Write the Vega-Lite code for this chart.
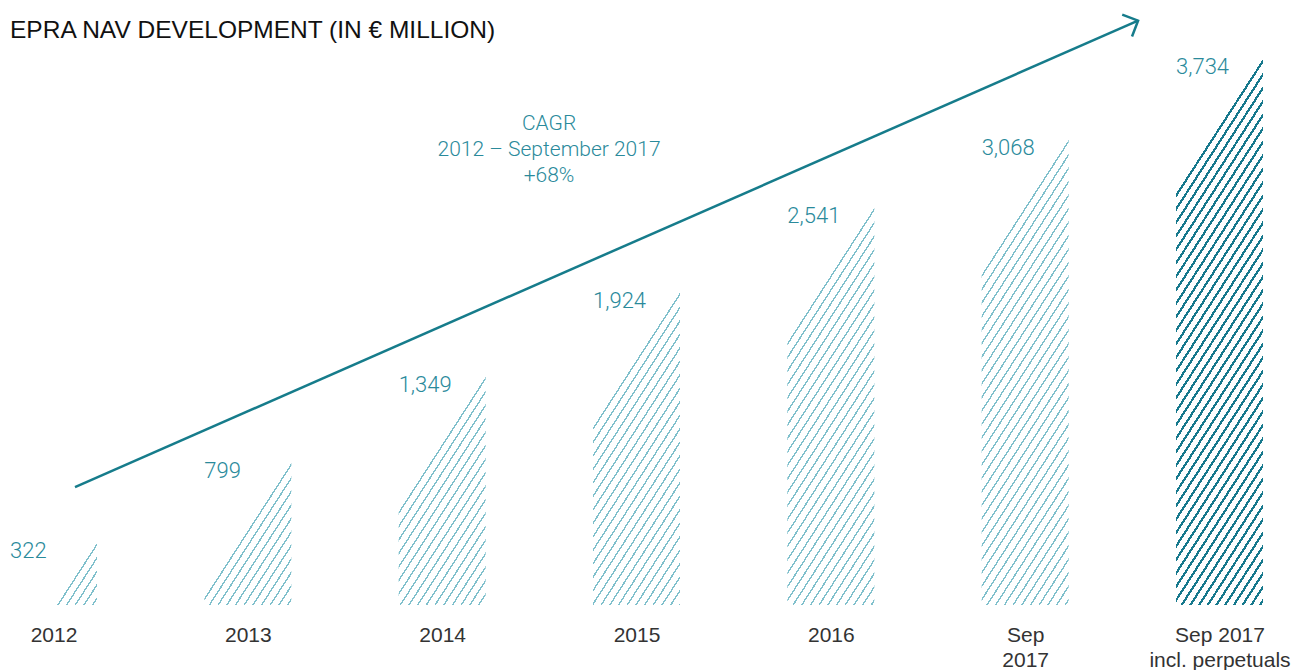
{
  "$schema": "https://vega.github.io/schema/vega-lite/v6.json",
  "width": 1273,
  "height": 555,
  "autosize": {"type": "none"},
  "padding": {"left": 0, "top": 50, "right": 35, "bottom": 65},
  "background": "white",
  "config": {"view": {"stroke": null}, "font": "Roboto"},
  "title": {"text": "EPRA NAV DEVELOPMENT (IN € MILLION)", "anchor": "start", "frame": "group", "fontSize": 24.5, "fontWeight": 400, "color": "#111111", "font": "Liberation Sans", "baseline": "alphabetic", "offset": 10, "dx": 10, "dy": 63},
  "datasets": {
    "nav": [
      {"cat": "2012", "nav": 322},
      {"cat": "2013", "nav": 799},
      {"cat": "2014", "nav": 1349},
      {"cat": "2015", "nav": 1924},
      {"cat": "2016", "nav": 2541},
      {"cat": "Sep|2017", "nav": 3068},
      {"cat": "Sep 2017|incl. perpetuals", "nav": 3734}
    ],
    "arrow": [
      {"part": "start", "i": 0.1106, "v": 653.2},
      {"part": "end", "i": 5.581, "v": 4063.4}
    ],
    "note": [
      {"i": 2.55, "v": 3198, "text": "CAGR\n2012 – September 2017\n+68%"}
    ]
  },
  "layer": [
    {
      "data": {"name": "nav"},
      "encoding": {
        "x": {"field": "cat", "type": "nominal", "sort": null, "scale": {"type": "point", "padding": 0.2753},
          "axis": {"title": null, "domain": false, "ticks": false, "tickSize": 0, "grid": false, "labelAngle": 0, "labelFontSize": 21, "labelFontWeight": 400, "labelColor": "#333333", "labelFont": "Liberation Sans", "labelPadding": 19, "labelLineHeight": 25, "labelBaseline": "top", "labelOverlap": false, "labelBound": false, "labelExpr": "split(datum.label, '|')"}},
        "y": {"field": "nav", "type": "quantitative", "scale": {"type": "symlog", "constant": 7000, "domain": [0, 3767], "nice": false, "zero": false}, "axis": null}
      },
      "layer": [
        {
          "transform": [{"filter": "datum.cat !== 'Sep 2017|incl. perpetuals'"}],
          "mark": {"type": "bar", "orient": "horizontal", "width": 87, "height": 1400, "clip": true,
            "fill": {"gradient": "linear", "x1": 1.03861, "y1": 0.9008, "x2": 1, "y2": 0.5, "stops": [
              {"offset": 0, "color": "transparent"},
              {"offset": 0.1383, "color": "transparent"}, {"offset": 0.1383, "color": "#80c0cc"}, {"offset": 0.1429, "color": "#80c0cc"}, {"offset": 0.1429, "color": "transparent"},
              {"offset": 0.1621, "color": "transparent"}, {"offset": 0.1621, "color": "#80c0cc"}, {"offset": 0.1667, "color": "#80c0cc"}, {"offset": 0.1667, "color": "transparent"},
              {"offset": 0.1859, "color": "transparent"}, {"offset": 0.1859, "color": "#80c0cc"}, {"offset": 0.1905, "color": "#80c0cc"}, {"offset": 0.1905, "color": "transparent"},
              {"offset": 0.2097, "color": "transparent"}, {"offset": 0.2097, "color": "#80c0cc"}, {"offset": 0.2143, "color": "#80c0cc"}, {"offset": 0.2143, "color": "transparent"},
              {"offset": 0.2335, "color": "transparent"}, {"offset": 0.2335, "color": "#80c0cc"}, {"offset": 0.2381, "color": "#80c0cc"}, {"offset": 0.2381, "color": "transparent"},
              {"offset": 0.2573, "color": "transparent"}, {"offset": 0.2573, "color": "#80c0cc"}, {"offset": 0.2619, "color": "#80c0cc"}, {"offset": 0.2619, "color": "transparent"},
              {"offset": 0.2811, "color": "transparent"}, {"offset": 0.2811, "color": "#80c0cc"}, {"offset": 0.2857, "color": "#80c0cc"}, {"offset": 0.2857, "color": "transparent"},
              {"offset": 0.3049, "color": "transparent"}, {"offset": 0.3049, "color": "#80c0cc"}, {"offset": 0.3095, "color": "#80c0cc"}, {"offset": 0.3095, "color": "transparent"},
              {"offset": 0.3287, "color": "transparent"}, {"offset": 0.3287, "color": "#80c0cc"}, {"offset": 0.3333, "color": "#80c0cc"}, {"offset": 0.3333, "color": "transparent"},
              {"offset": 0.3525, "color": "transparent"}, {"offset": 0.3525, "color": "#80c0cc"}, {"offset": 0.3571, "color": "#80c0cc"}, {"offset": 0.3571, "color": "transparent"},
              {"offset": 0.3764, "color": "transparent"}, {"offset": 0.3764, "color": "#80c0cc"}, {"offset": 0.3810, "color": "#80c0cc"}, {"offset": 0.3810, "color": "transparent"},
              {"offset": 0.4002, "color": "transparent"}, {"offset": 0.4002, "color": "#80c0cc"}, {"offset": 0.4048, "color": "#80c0cc"}, {"offset": 0.4048, "color": "transparent"},
              {"offset": 0.4240, "color": "transparent"}, {"offset": 0.4240, "color": "#80c0cc"}, {"offset": 0.4286, "color": "#80c0cc"}, {"offset": 0.4286, "color": "transparent"},
              {"offset": 0.4478, "color": "transparent"}, {"offset": 0.4478, "color": "#80c0cc"}, {"offset": 0.4524, "color": "#80c0cc"}, {"offset": 0.4524, "color": "transparent"},
              {"offset": 0.4716, "color": "transparent"}, {"offset": 0.4716, "color": "#80c0cc"}, {"offset": 0.4762, "color": "#80c0cc"}, {"offset": 0.4762, "color": "transparent"},
              {"offset": 0.4954, "color": "transparent"}, {"offset": 0.4954, "color": "#80c0cc"}, {"offset": 0.5000, "color": "#80c0cc"}, {"offset": 0.5000, "color": "transparent"},
              {"offset": 0.5192, "color": "transparent"}, {"offset": 0.5192, "color": "#80c0cc"}, {"offset": 0.5238, "color": "#80c0cc"}, {"offset": 0.5238, "color": "transparent"},
              {"offset": 0.5430, "color": "transparent"}, {"offset": 0.5430, "color": "#80c0cc"}, {"offset": 0.5476, "color": "#80c0cc"}, {"offset": 0.5476, "color": "transparent"},
              {"offset": 0.5668, "color": "transparent"}, {"offset": 0.5668, "color": "#80c0cc"}, {"offset": 0.5714, "color": "#80c0cc"}, {"offset": 0.5714, "color": "transparent"},
              {"offset": 0.5906, "color": "transparent"}, {"offset": 0.5906, "color": "#80c0cc"}, {"offset": 0.5952, "color": "#80c0cc"}, {"offset": 0.5952, "color": "transparent"},
              {"offset": 0.6144, "color": "transparent"}, {"offset": 0.6144, "color": "#80c0cc"}, {"offset": 0.6190, "color": "#80c0cc"}, {"offset": 0.6190, "color": "transparent"},
              {"offset": 0.6383, "color": "transparent"}, {"offset": 0.6383, "color": "#80c0cc"}, {"offset": 0.6429, "color": "#80c0cc"}, {"offset": 0.6429, "color": "transparent"},
              {"offset": 0.6621, "color": "transparent"}, {"offset": 0.6621, "color": "#80c0cc"}, {"offset": 0.6667, "color": "#80c0cc"}, {"offset": 0.6667, "color": "transparent"},
              {"offset": 0.6859, "color": "transparent"}, {"offset": 0.6859, "color": "#80c0cc"}, {"offset": 0.6905, "color": "#80c0cc"}, {"offset": 0.6905, "color": "transparent"},
              {"offset": 0.7097, "color": "transparent"}, {"offset": 0.7097, "color": "#80c0cc"}, {"offset": 0.7143, "color": "#80c0cc"}, {"offset": 0.7143, "color": "transparent"},
              {"offset": 0.7335, "color": "transparent"}, {"offset": 0.7335, "color": "#80c0cc"}, {"offset": 0.7381, "color": "#80c0cc"}, {"offset": 0.7381, "color": "transparent"},
              {"offset": 0.7573, "color": "transparent"}, {"offset": 0.7573, "color": "#80c0cc"}, {"offset": 0.7619, "color": "#80c0cc"}, {"offset": 0.7619, "color": "transparent"},
              {"offset": 0.7811, "color": "transparent"}, {"offset": 0.7811, "color": "#80c0cc"}, {"offset": 0.7857, "color": "#80c0cc"}, {"offset": 0.7857, "color": "transparent"},
              {"offset": 0.8049, "color": "transparent"}, {"offset": 0.8049, "color": "#80c0cc"}, {"offset": 0.8095, "color": "#80c0cc"}, {"offset": 0.8095, "color": "transparent"},
              {"offset": 0.8287, "color": "transparent"}, {"offset": 0.8287, "color": "#80c0cc"}, {"offset": 0.8333, "color": "#80c0cc"}, {"offset": 0.8333, "color": "transparent"},
              {"offset": 0.8525, "color": "transparent"}, {"offset": 0.8525, "color": "#80c0cc"}, {"offset": 0.8571, "color": "#80c0cc"}, {"offset": 0.8571, "color": "transparent"},
              {"offset": 0.8764, "color": "transparent"}, {"offset": 0.8764, "color": "#80c0cc"}, {"offset": 0.8810, "color": "#80c0cc"}, {"offset": 0.8810, "color": "transparent"},
              {"offset": 0.9002, "color": "transparent"}, {"offset": 0.9002, "color": "#80c0cc"}, {"offset": 0.9048, "color": "#80c0cc"}, {"offset": 0.9048, "color": "transparent"},
              {"offset": 0.9240, "color": "transparent"}, {"offset": 0.9240, "color": "#80c0cc"}, {"offset": 0.9286, "color": "#80c0cc"}, {"offset": 0.9286, "color": "transparent"},
              {"offset": 0.9478, "color": "transparent"}, {"offset": 0.9478, "color": "#80c0cc"}, {"offset": 0.9524, "color": "#80c0cc"}, {"offset": 0.9524, "color": "transparent"},
              {"offset": 0.9716, "color": "transparent"}, {"offset": 0.9716, "color": "#80c0cc"}, {"offset": 0.9762, "color": "#80c0cc"}, {"offset": 0.9762, "color": "transparent"},
              {"offset": 0.9954, "color": "transparent"}, {"offset": 0.9954, "color": "#80c0cc"}, {"offset": 1, "color": "#80c0cc"}, {"offset": 1, "color": "transparent"}
            ]}}
        },
        {
          "transform": [{"filter": "datum.cat === 'Sep 2017|incl. perpetuals'"}],
          "mark": {"type": "bar", "orient": "horizontal", "width": 87, "height": 1400, "clip": true,
            "fill": {"gradient": "linear", "x1": 1.03861, "y1": 0.9008, "x2": 1, "y2": 0.5, "stops": [
              {"offset": 0, "color": "transparent"},
              {"offset": 0.0166, "color": "transparent"}, {"offset": 0.0166, "color": "#17798d"}, {"offset": 0.0238, "color": "#17798d"}, {"offset": 0.0238, "color": "transparent"},
              {"offset": 0.0404, "color": "transparent"}, {"offset": 0.0404, "color": "#17798d"}, {"offset": 0.0476, "color": "#17798d"}, {"offset": 0.0476, "color": "transparent"},
              {"offset": 0.0642, "color": "transparent"}, {"offset": 0.0642, "color": "#17798d"}, {"offset": 0.0714, "color": "#17798d"}, {"offset": 0.0714, "color": "transparent"},
              {"offset": 0.0880, "color": "transparent"}, {"offset": 0.0880, "color": "#17798d"}, {"offset": 0.0952, "color": "#17798d"}, {"offset": 0.0952, "color": "transparent"},
              {"offset": 0.1118, "color": "transparent"}, {"offset": 0.1118, "color": "#17798d"}, {"offset": 0.1190, "color": "#17798d"}, {"offset": 0.1190, "color": "transparent"},
              {"offset": 0.1357, "color": "transparent"}, {"offset": 0.1357, "color": "#17798d"}, {"offset": 0.1429, "color": "#17798d"}, {"offset": 0.1429, "color": "transparent"},
              {"offset": 0.1595, "color": "transparent"}, {"offset": 0.1595, "color": "#17798d"}, {"offset": 0.1667, "color": "#17798d"}, {"offset": 0.1667, "color": "transparent"},
              {"offset": 0.1833, "color": "transparent"}, {"offset": 0.1833, "color": "#17798d"}, {"offset": 0.1905, "color": "#17798d"}, {"offset": 0.1905, "color": "transparent"},
              {"offset": 0.2071, "color": "transparent"}, {"offset": 0.2071, "color": "#17798d"}, {"offset": 0.2143, "color": "#17798d"}, {"offset": 0.2143, "color": "transparent"},
              {"offset": 0.2309, "color": "transparent"}, {"offset": 0.2309, "color": "#17798d"}, {"offset": 0.2381, "color": "#17798d"}, {"offset": 0.2381, "color": "transparent"},
              {"offset": 0.2547, "color": "transparent"}, {"offset": 0.2547, "color": "#17798d"}, {"offset": 0.2619, "color": "#17798d"}, {"offset": 0.2619, "color": "transparent"},
              {"offset": 0.2785, "color": "transparent"}, {"offset": 0.2785, "color": "#17798d"}, {"offset": 0.2857, "color": "#17798d"}, {"offset": 0.2857, "color": "transparent"},
              {"offset": 0.3023, "color": "transparent"}, {"offset": 0.3023, "color": "#17798d"}, {"offset": 0.3095, "color": "#17798d"}, {"offset": 0.3095, "color": "transparent"},
              {"offset": 0.3261, "color": "transparent"}, {"offset": 0.3261, "color": "#17798d"}, {"offset": 0.3333, "color": "#17798d"}, {"offset": 0.3333, "color": "transparent"},
              {"offset": 0.3499, "color": "transparent"}, {"offset": 0.3499, "color": "#17798d"}, {"offset": 0.3571, "color": "#17798d"}, {"offset": 0.3571, "color": "transparent"},
              {"offset": 0.3738, "color": "transparent"}, {"offset": 0.3738, "color": "#17798d"}, {"offset": 0.3810, "color": "#17798d"}, {"offset": 0.3810, "color": "transparent"},
              {"offset": 0.3976, "color": "transparent"}, {"offset": 0.3976, "color": "#17798d"}, {"offset": 0.4048, "color": "#17798d"}, {"offset": 0.4048, "color": "transparent"},
              {"offset": 0.4214, "color": "transparent"}, {"offset": 0.4214, "color": "#17798d"}, {"offset": 0.4286, "color": "#17798d"}, {"offset": 0.4286, "color": "transparent"},
              {"offset": 0.4452, "color": "transparent"}, {"offset": 0.4452, "color": "#17798d"}, {"offset": 0.4524, "color": "#17798d"}, {"offset": 0.4524, "color": "transparent"},
              {"offset": 0.4690, "color": "transparent"}, {"offset": 0.4690, "color": "#17798d"}, {"offset": 0.4762, "color": "#17798d"}, {"offset": 0.4762, "color": "transparent"},
              {"offset": 0.4928, "color": "transparent"}, {"offset": 0.4928, "color": "#17798d"}, {"offset": 0.5000, "color": "#17798d"}, {"offset": 0.5000, "color": "transparent"},
              {"offset": 0.5166, "color": "transparent"}, {"offset": 0.5166, "color": "#17798d"}, {"offset": 0.5238, "color": "#17798d"}, {"offset": 0.5238, "color": "transparent"},
              {"offset": 0.5404, "color": "transparent"}, {"offset": 0.5404, "color": "#17798d"}, {"offset": 0.5476, "color": "#17798d"}, {"offset": 0.5476, "color": "transparent"},
              {"offset": 0.5642, "color": "transparent"}, {"offset": 0.5642, "color": "#17798d"}, {"offset": 0.5714, "color": "#17798d"}, {"offset": 0.5714, "color": "transparent"},
              {"offset": 0.5880, "color": "transparent"}, {"offset": 0.5880, "color": "#17798d"}, {"offset": 0.5952, "color": "#17798d"}, {"offset": 0.5952, "color": "transparent"},
              {"offset": 0.6118, "color": "transparent"}, {"offset": 0.6118, "color": "#17798d"}, {"offset": 0.6190, "color": "#17798d"}, {"offset": 0.6190, "color": "transparent"},
              {"offset": 0.6357, "color": "transparent"}, {"offset": 0.6357, "color": "#17798d"}, {"offset": 0.6429, "color": "#17798d"}, {"offset": 0.6429, "color": "transparent"},
              {"offset": 0.6595, "color": "transparent"}, {"offset": 0.6595, "color": "#17798d"}, {"offset": 0.6667, "color": "#17798d"}, {"offset": 0.6667, "color": "transparent"},
              {"offset": 0.6833, "color": "transparent"}, {"offset": 0.6833, "color": "#17798d"}, {"offset": 0.6905, "color": "#17798d"}, {"offset": 0.6905, "color": "transparent"},
              {"offset": 0.7071, "color": "transparent"}, {"offset": 0.7071, "color": "#17798d"}, {"offset": 0.7143, "color": "#17798d"}, {"offset": 0.7143, "color": "transparent"},
              {"offset": 0.7309, "color": "transparent"}, {"offset": 0.7309, "color": "#17798d"}, {"offset": 0.7381, "color": "#17798d"}, {"offset": 0.7381, "color": "transparent"},
              {"offset": 0.7547, "color": "transparent"}, {"offset": 0.7547, "color": "#17798d"}, {"offset": 0.7619, "color": "#17798d"}, {"offset": 0.7619, "color": "transparent"},
              {"offset": 0.7785, "color": "transparent"}, {"offset": 0.7785, "color": "#17798d"}, {"offset": 0.7857, "color": "#17798d"}, {"offset": 0.7857, "color": "transparent"},
              {"offset": 0.8023, "color": "transparent"}, {"offset": 0.8023, "color": "#17798d"}, {"offset": 0.8095, "color": "#17798d"}, {"offset": 0.8095, "color": "transparent"},
              {"offset": 0.8261, "color": "transparent"}, {"offset": 0.8261, "color": "#17798d"}, {"offset": 0.8333, "color": "#17798d"}, {"offset": 0.8333, "color": "transparent"},
              {"offset": 0.8499, "color": "transparent"}, {"offset": 0.8499, "color": "#17798d"}, {"offset": 0.8571, "color": "#17798d"}, {"offset": 0.8571, "color": "transparent"},
              {"offset": 0.8738, "color": "transparent"}, {"offset": 0.8738, "color": "#17798d"}, {"offset": 0.8810, "color": "#17798d"}, {"offset": 0.8810, "color": "transparent"},
              {"offset": 0.8976, "color": "transparent"}, {"offset": 0.8976, "color": "#17798d"}, {"offset": 0.9048, "color": "#17798d"}, {"offset": 0.9048, "color": "transparent"},
              {"offset": 0.9214, "color": "transparent"}, {"offset": 0.9214, "color": "#17798d"}, {"offset": 0.9286, "color": "#17798d"}, {"offset": 0.9286, "color": "transparent"},
              {"offset": 0.9452, "color": "transparent"}, {"offset": 0.9452, "color": "#17798d"}, {"offset": 0.9524, "color": "#17798d"}, {"offset": 0.9524, "color": "transparent"},
              {"offset": 0.9690, "color": "transparent"}, {"offset": 0.9690, "color": "#17798d"}, {"offset": 0.9762, "color": "#17798d"}, {"offset": 0.9762, "color": "transparent"},
              {"offset": 0.9928, "color": "transparent"}, {"offset": 0.9928, "color": "#17798d"}, {"offset": 1, "color": "#17798d"}, {"offset": 1, "color": "transparent"}
            ]}}
        },
        {
          "mark": {"type": "text", "align": "left", "baseline": "top", "dx": -43.5, "dy": -2, "fontSize": 22, "fontWeight": 300, "font": "Roboto", "color": "#2a8a9b"},
          "encoding": {"text": {"field": "nav", "type": "quantitative", "format": ","}}
        }
      ]
    },
    {
      "data": {"name": "arrow"},
      "encoding": {
        "x": {"field": "i", "type": "quantitative", "scale": {"domain": [-0.2753, 6.2753], "nice": false, "zero": false}, "axis": null},
        "y": {"field": "v", "type": "quantitative", "scale": {"type": "symlog", "constant": 7000, "domain": [0, 3767], "nice": false, "zero": false}, "axis": null}
      },
      "layer": [
        {"mark": {"type": "line", "color": "#167c8b", "strokeWidth": 2.5, "clip": false}},
        {"transform": [{"filter": "datum.part === 'end'"}],
         "mark": {"type": "point", "shape": "M-1,-1L0,0L-1,1", "size": 576, "filled": false, "stroke": "#167c8b", "strokeWidth": 2.5, "angle": 335.9, "opacity": 1}}
      ]
    },
    {
      "data": {"name": "note"},
      "mark": {"type": "text", "align": "center", "baseline": "middle", "lineBreak": "\n", "lineHeight": 26, "fontSize": 21, "fontWeight": 300, "font": "Roboto", "color": "#2a8a9b"},
      "encoding": {
        "x": {"field": "i", "type": "quantitative", "scale": {"domain": [-0.2753, 6.2753], "nice": false, "zero": false}, "axis": null},
        "y": {"field": "v", "type": "quantitative", "scale": {"type": "symlog", "constant": 7000, "domain": [0, 3767], "nice": false, "zero": false}, "axis": null},
        "text": {"field": "text", "type": "nominal"}
      }
    }
  ],
  "resolve": {"scale": {"x": "independent"}}
}
